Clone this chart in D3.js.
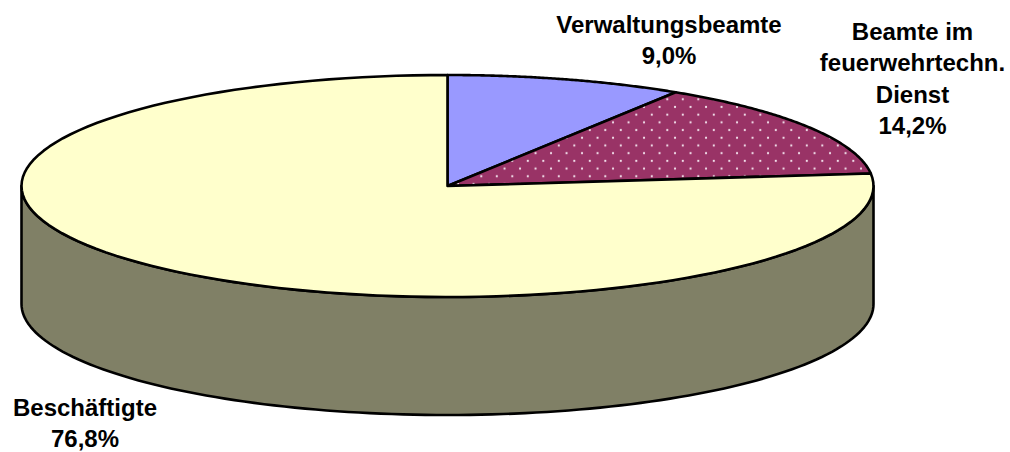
<!DOCTYPE html>
<html><head><meta charset="utf-8">
<style>html,body{margin:0;padding:0;background:#fff}svg{display:block}text{font-family:"Liberation Sans",Arial,sans-serif;font-weight:bold;font-size:24px;fill:#000;text-anchor:middle}</style>
<script src="https://cdnjs.cloudflare.com/ajax/libs/d3/7.8.5/d3.min.js"></script>
</head><body><svg id="c" width="1010" height="452"></svg>
<script>
const categories = ["Verwaltungsbeamte", "Beamte im feuerwehrtechn. Dienst", "Beschäftigte"];
const values = [9.0, 14.2, 76.8];
const valueLabels = ["9,0%", "14,2%", "76,8%"];
const labelLines = [["Verwaltungsbeamte"], ["Beamte im", "feuerwehrtechn.", "Dienst"], ["Beschäftigte"]];
const labelAnchors = [[669, 32.5, 31], [912.5, 40, 31.4], [85, 415.5, 31]];
const fills = ["#9999ff", "url(#dots)", "#ffffcc"];

const cx = 447.5, cy = 186, rx = 426, ry = 111, depth = 118;
const svg = d3.select("#c");
const x = d3.scaleLinear().domain([-1, 1]).range([cx - rx, cx + rx]);
const y = d3.scaleLinear().domain([-1, 1]).range([cy - ry, cy + ry]);
const px = a => x(Math.sin(a)), py = a => y(-Math.cos(a));
const arcs = d3.pie().sort(null)(values);

const p = svg.append("defs").append("pattern").attr("id", "dots")
  .attr("patternUnits", "userSpaceOnUse").attr("width", 15.5).attr("height", 15.4)
  .attr("patternTransform", "translate(481.3,176.3)");
p.append("rect").attr("width", 15.5).attr("height", 15.4).attr("fill", "#993366");
[[0, 0], [15.5, 0], [0, 15.4], [15.5, 15.4], [7.75, 7.7]].forEach(d =>
  p.append("circle").attr("cx", d[0]).attr("cy", d[1]).attr("r", 1.1).attr("fill", "#f4e4ee"));

const line = d3.line().x(d => d[0]).y(d => d[1]);
const samples = (a0, a1) => d3.range(0, 121).map(i => a0 + (a1 - a0) * i / 120);

const front = samples(Math.PI / 2, Math.PI * 1.5);
const wall = front.map(a => [px(a), py(a) + depth]).concat(front.slice().reverse().map(a => [px(a), py(a)]));
svg.append("path").attr("d", line(wall) + "Z").attr("fill", "#808066").attr("stroke", "#000").attr("stroke-width", 2.6).attr("stroke-linejoin", "round");

arcs.forEach((d, i) => {
  const pts = [[cx, cy]].concat(samples(d.startAngle, d.endAngle).map(a => [px(a), py(a)]));
  svg.append("path").attr("d", line(pts) + "Z").attr("fill", fills[i]).attr("stroke", "#000").attr("stroke-width", 2.6).attr("stroke-linejoin", "round");
});

labelLines.forEach((ls, i) => {
  const all = ls.concat([valueLabels[i]]);
  all.forEach((t, j) => svg.append("text").attr("x", labelAnchors[i][0]).attr("y", labelAnchors[i][1] + j * labelAnchors[i][2]).text(t));
});
</script></body></html>
